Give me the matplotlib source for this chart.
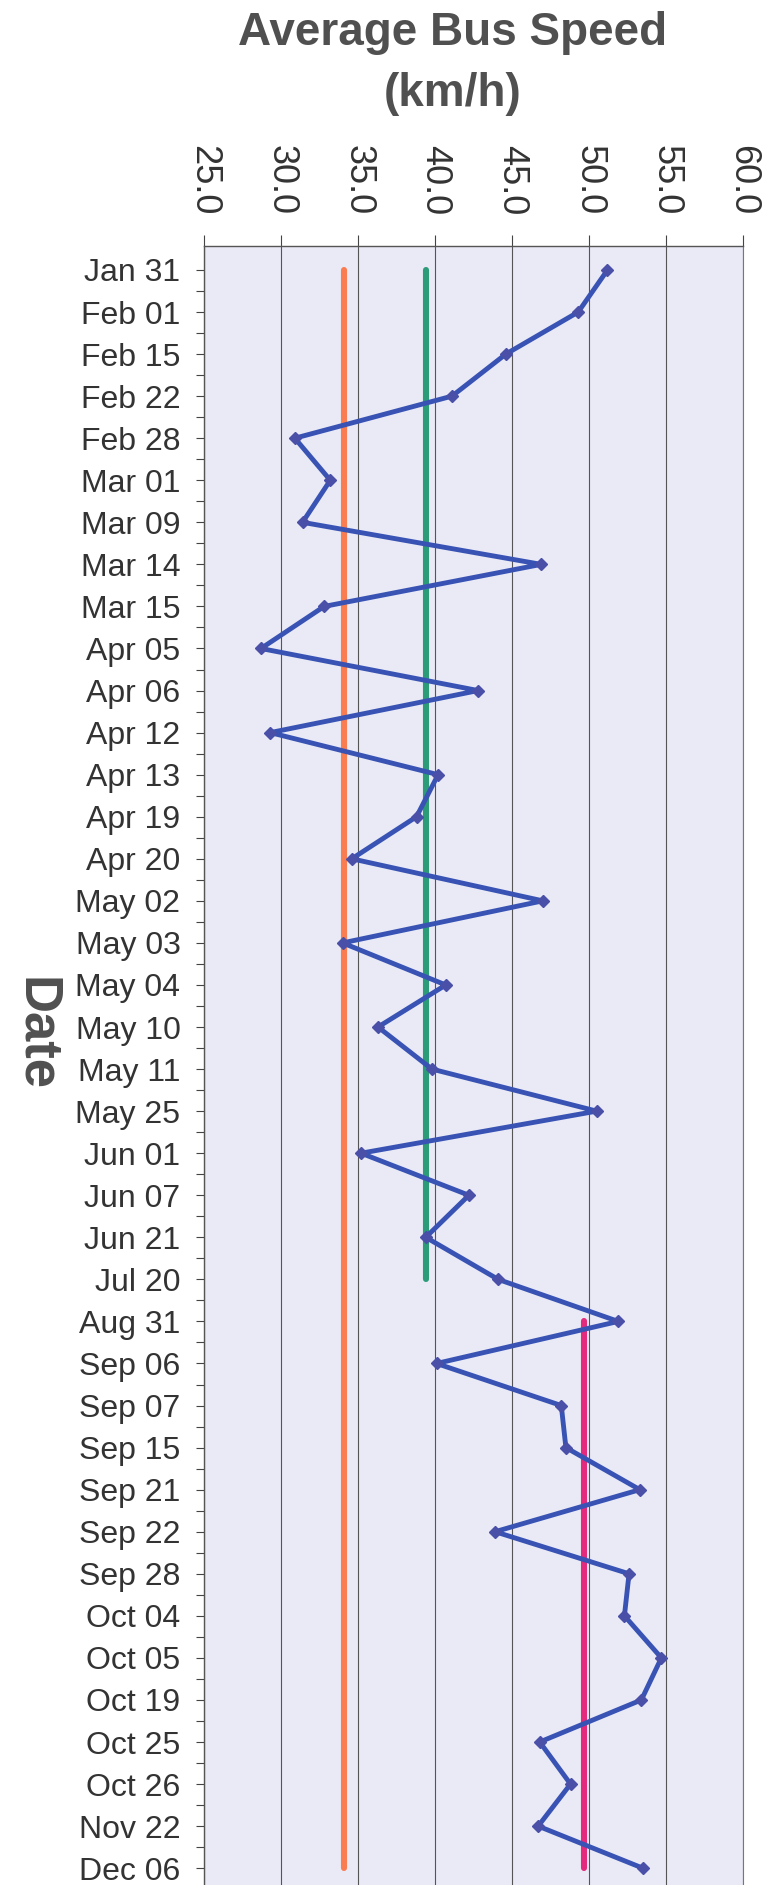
import numpy as np
import matplotlib
matplotlib.use('Agg')
import matplotlib.pyplot as plt

plt.rcParams['font.family'] = ['Liberation Sans', 'DejaVu Sans']

# dates on the vertical axis, top to bottom
dates = ['Jan 31', 'Feb 01', 'Feb 15', 'Feb 22', 'Feb 28', 'Mar 01', 'Mar 09',
         'Mar 14', 'Mar 15', 'Apr 05', 'Apr 06', 'Apr 12', 'Apr 13', 'Apr 19',
         'Apr 20', 'May 02', 'May 03', 'May 04', 'May 10', 'May 11', 'May 25',
         'Jun 01', 'Jun 07', 'Jun 21', 'Jul 20', 'Aug 31', 'Sep 06', 'Sep 07',
         'Sep 15', 'Sep 21', 'Sep 22', 'Sep 28', 'Oct 04', 'Oct 05', 'Oct 19',
         'Oct 25', 'Oct 26', 'Nov 22', 'Dec 06']

# average bus speed (km/h)
speed = [51.2, 49.3, 44.6, 41.1, 30.9, 33.2, 31.4, 46.9, 32.8, 28.7,
         42.8, 29.3, 40.2, 38.8, 34.6, 47.0, 34.0, 40.7, 36.3, 39.8,
         50.5, 35.2, 42.2, 39.4, 44.1, 51.9, 40.1, 48.2, 48.5, 53.3,
         43.9, 52.6, 52.3, 54.7, 53.4, 46.8, 48.8, 46.7, 53.5]

# reference lines: value, first date, last date
orange_ref = (34.1, 'Jan 31', 'Dec 06')
green_ref = (39.4, 'Jan 31', 'Jul 20')
pink_ref = (49.7, 'Aug 31', 'Dec 06')

x_ticks = [25, 30, 35, 40, 45, 50, 55, 60]


def draw_chart():
    W, H = 767, 1885
    fig = plt.figure(figsize=(W / 100, H / 100), dpi=100)
    ax = fig.add_axes([204 / W, 0, (743 - 204) / W, (H - 246) / H])
    ax.set_facecolor('#E9EAF6')

    pos = np.arange(len(dates))

    # reference lines
    for (val, d0, d1), col in [(orange_ref, '#FA7D52'),
                               (green_ref, '#2C9B78'),
                               (pink_ref, '#E42A7C')]:
        i0, i1 = dates.index(d0), dates.index(d1)
        ax.plot([val, val], [i0, i1], color=col, lw=4.4,
                solid_capstyle='round', zorder=3)

    # speed series
    ax.plot(speed, pos, color='#3953B4', lw=3.5, marker='D', ms=6,
            markerfacecolor='#4A4FA8', markeredgecolor='#4A4FA8', zorder=4)

    ax.set_xlim(25, 60)
    ax.set_ylim(38.4, -0.57)

    ax.xaxis.tick_top()
    ax.set_xticks(x_ticks)
    ax.set_xticklabels([f'{v:.1f}' for v in x_ticks], rotation=-90,
                       fontsize=26, ha='center', va='bottom')
    ax.tick_params(axis='x', length=8, width=0.8, pad=14, colors='#444444')
    for lbl in ax.get_xticklabels():
        lbl.set_color('#333333')

    ax.set_yticks(pos)
    ax.set_yticklabels(dates, fontsize=23)
    ax.set_yticks(pos[:-1] + 0.5, minor=True)
    ax.tick_params(axis='y', which='both', length=6, width=0.8, pad=11,
                   colors='#444444')
    for lbl in ax.get_yticklabels():
        lbl.set_color('#333333')

    ax.grid(axis='x', color='#555555', lw=0.8)
    ax.set_axisbelow(True)
    for side in ['top', 'left']:
        ax.spines[side].set_color('#555555')
        ax.spines[side].set_linewidth(1.0)
    ax.spines['right'].set_color('#777777')
    ax.spines['right'].set_linewidth(0.8)
    ax.spines['bottom'].set_visible(False)

    fig.text(453 / W, 1 - 33 / H, 'Average Bus Speed', ha='center', va='center',
             fontsize=33, fontweight='bold', color='#505050')
    fig.text(453 / W, 1 - 94 / H, '(km/h)', ha='center', va='center',
             fontsize=33, fontweight='bold', color='#505050')

    fig.text(36 / W, 1 - 1034 / H, 'Date', ha='center', va='center',
             rotation=-90, fontsize=38, fontweight='bold', color='#505050')

    fig.savefig('out.png', dpi=100)


if __name__ == '__main__':
    draw_chart()
